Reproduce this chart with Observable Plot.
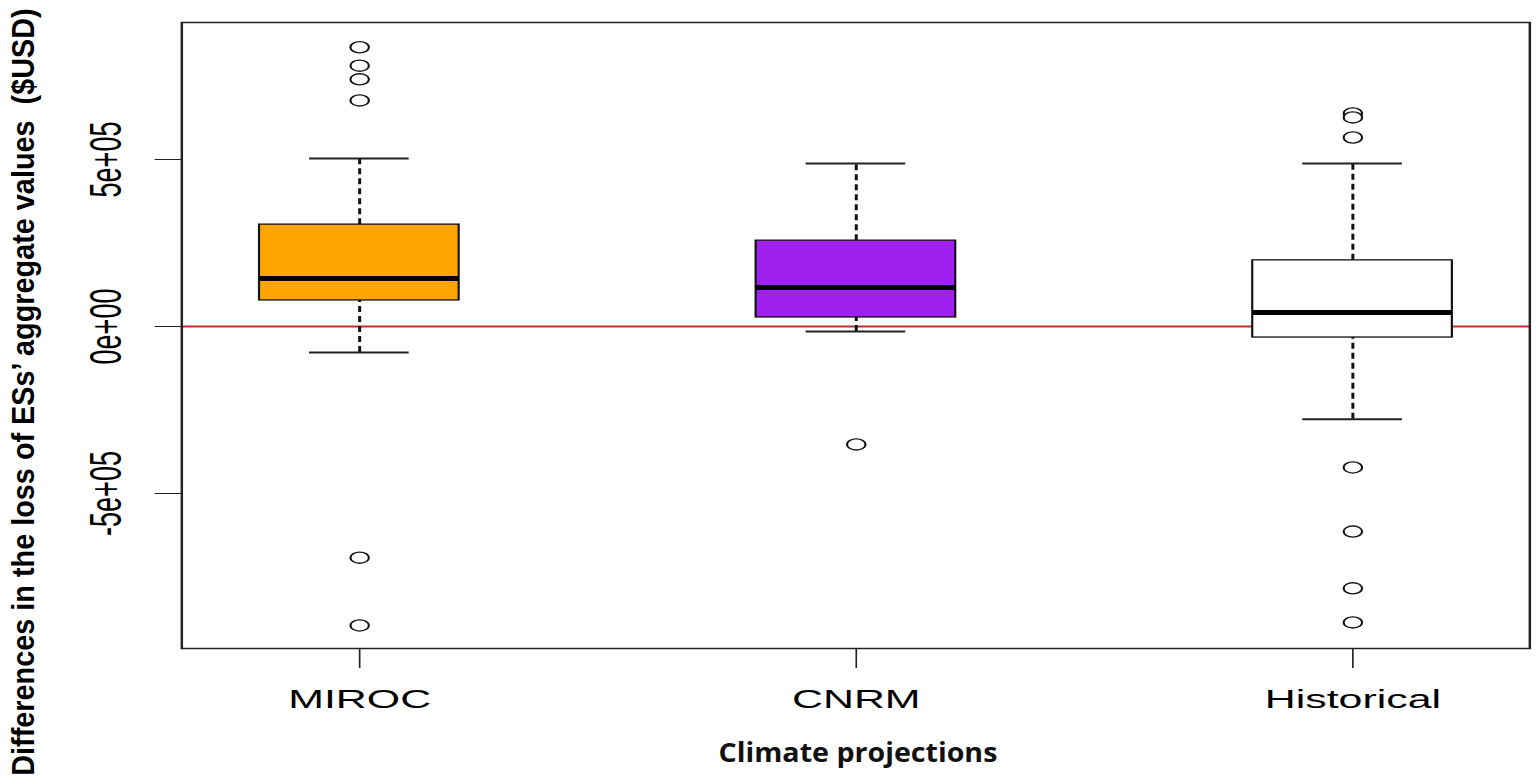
<!DOCTYPE html>
<html>
<head>
<meta charset="utf-8">
<script src="https://cdn.jsdelivr.net/npm/d3@7"></script>
<script src="https://cdn.jsdelivr.net/npm/@observablehq/plot@0.6"></script>
<style>
  html, body { margin: 0; padding: 0; background: white; overflow: hidden; }
  #wrap { position: relative; width: 1536px; height: 784px; }
  #ytitle {
    position: absolute; left: 24px; top: 392px;
    transform: translate(-50%, -50%) rotate(-90deg) scaleX(0.93);
    white-space: pre; font: bold 31px "Liberation Sans", Arial, sans-serif; color: #000;
  }
  #xtitle {
    position: absolute; left: 858px; top: 737px;
    transform: translateX(-50%) scaleX(1.1);
    white-space: pre; font: 700 26px "Open Sans", "Liberation Sans", sans-serif; color: #111; line-height: 1.2;
  }
</style>
</head>
<body>
<div id="wrap">
  <div id="chart"></div>
  <div id="ytitle">Differences in the loss of ESs’ aggregate values  ($USD)</div>
  <div id="xtitle">Climate projections</div>
</div>
<script>
// ---- data ----
const categories   = ["MIROC", "CNRM", "Historical"];
const lowerWhisker = [-78000, -15000, -278000];
const q1           = [78000, 27000, -33000];
const median       = [144000, 117000, 42000];
const q3           = [305000, 257000, 198000];
const upperWhisker = [503000, 488000, 488000];
const outliersMIROC      = [836000, 781000, 740000, 677000, -692000, -895000];
const outliersCNRM       = [-353000];
const outliersHistorical = [638000, 626000, 566000, -422000, -614000, -784000, -886000];
const yTicks      = [-500000, 0, 500000];
const yTickLabels = ["-5e+05", "0e+00", "5e+05"];

// ---- styles ----
const boxColors = ["#FFA500", "#A020F0", "#FFFFFF"];

// ---- tables ----
const stats = categories.map((c, i) => ({
  cat: c, lo: lowerWhisker[i], q1: q1[i], med: median[i], q3: q3[i], hi: upperWhisker[i]
}));
const outlierLists = [outliersMIROC, outliersCNRM, outliersHistorical];
const outliers = categories.flatMap((c, i) => outlierLists[i].map(v => ({cat: c, value: v})));

// The reference image is horizontally stretched; draw in logical units then stretch.
const S = 1536 / 931;
const W = 931, H = 784;
const mLeft = 181 / S, mRight = W - 1529 / S, mTop = 22, mBottom = H - 648;
const bandW = 200 / S;

const chart = Plot.plot({
  width: W, height: H,
  marginLeft: mLeft, marginRight: mRight, marginTop: mTop, marginBottom: mBottom,
  style: {fontFamily: "'Liberation Sans', Arial, sans-serif", background: "white", color: "black"},
  x: {domain: categories, paddingInner: 0.597, paddingOuter: 0.153, axis: null},
  y: {domain: [(648 - 326) * -5e5 / 167, (326 - 22) * 5e5 / 167], axis: null},
  color: {domain: categories, range: boxColors},
  marks: [
    Plot.ruleY([0], {stroke: "#bf2f2c", strokeWidth: 2}),
    Plot.ruleX(stats, {x: "cat", y1: "q3", y2: "hi", stroke: "#111", strokeWidth: 1.8, strokeDasharray: "6,4"}),
    Plot.ruleX(stats, {x: "cat", y1: "lo", y2: "q1", stroke: "#111", strokeWidth: 1.8, strokeDasharray: "6,4"}),
    Plot.tickY(stats, {x: "cat", y: "hi", stroke: "#222", strokeWidth: 2, insetLeft: bandW / 4, insetRight: bandW / 4}),
    Plot.tickY(stats, {x: "cat", y: "lo", stroke: "#222", strokeWidth: 2, insetLeft: bandW / 4, insetRight: bandW / 4}),
    Plot.barY(stats, {x: "cat", y1: "q1", y2: "q3", fill: "cat", stroke: "#111", strokeWidth: 1.3}),
    Plot.tickY(stats, {x: "cat", y: "med", stroke: "black", strokeWidth: 5}),
    Plot.dot(outliers, {x: "cat", y: "value", r: 5.6, stroke: "#111", strokeWidth: 1.3, fill: "white"}),
    Plot.frame({stroke: "#222", strokeWidth: 1.5}),
    Plot.axisY({ticks: yTicks, tickFormat: d => yTickLabels[yTicks.indexOf(d)], tickSize: 16, tickPadding: 21,
      tickRotate: -90, fontSize: 27, label: null, stroke: "#222"}),
    Plot.axisX({tickSize: 20, tickPadding: 21, fontSize: 26, label: null, stroke: "#222"})
  ]
});
chart.setAttribute("width", 1536);
chart.setAttribute("height", 784);
chart.setAttribute("preserveAspectRatio", "none");
chart.style.width = "1536px";
chart.style.height = "784px";
chart.style.maxWidth = "none";
document.getElementById("chart").appendChild(chart);
</script>
</body>
</html>
